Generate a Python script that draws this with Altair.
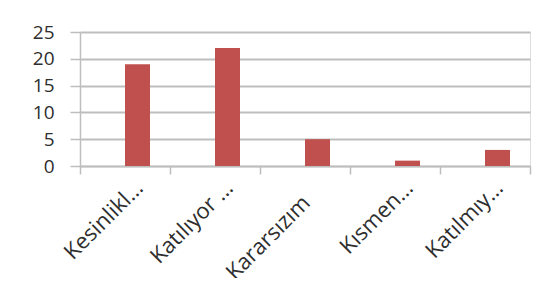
import altair as alt
import pandas as pd

categories = ["Kesinlikl...", "Katılıyor ...", "Kararsızım", "Kısmen...", "Katılmıy..."]
values = [19, 22, 5, 1, 3]
y_ticks = [0, 5, 10, 15, 20, 25]

df = pd.DataFrame({"kategori": categories, "deger": values})

line_col = "#BEBEBE"
text_col = "#2E2E2E"

chart = alt.Chart(df).mark_bar(color="#C0504D", width=25, xOffset=12.5).encode(
    x=alt.X(
        "kategori:N",
        sort=categories,
        scale=alt.Scale(paddingInner=0, paddingOuter=0),
        axis=alt.Axis(
            title=None,
            labelAngle=-45,
            labelAlign="right",
            labelBaseline="middle",
            labelFont="Open Sans",
            labelFontSize=22,
            labelColor=text_col,
            labelOffset={"condition": {"test": "datum.value == 'Kararsızım'", "value": 1}, "value": 14},
            labelPadding={"condition": {"test": "datum.value == 'Kararsızım'", "value": 25}, "value": 10},
            labelOverlap=False,
            tickBand="extent",
            tickSize=8,
            tickColor=line_col,
            tickWidth=1.5,
            domainColor=line_col,
            domainWidth=1.5,
            grid=False,
        ),
    ),
    y=alt.Y(
        "deger:Q",
        scale=alt.Scale(domain=[0, 25], nice=False),
        axis=alt.Axis(
            title=None,
            values=y_ticks,
            tickSize=10,
            tickColor=line_col,
            tickWidth=1.5,
            domainColor=line_col,
            domainWidth=1.5,
            grid=True,
            gridColor=line_col,
            gridWidth=1.8,
            labelFont="Open Sans",
            labelFontSize=19,
            labelColor=text_col,
            labelPadding=16,
        ),
    ),
).properties(
    width=450,
    height=134,
    autosize=alt.AutoSizeParams(type="none"),
    padding={"left": 72, "top": 24, "right": 12, "bottom": 112},
).configure_view(stroke=None).configure(background="white")

chart.save("out.html", embed_options={"renderer": "svg", "actions": False})
